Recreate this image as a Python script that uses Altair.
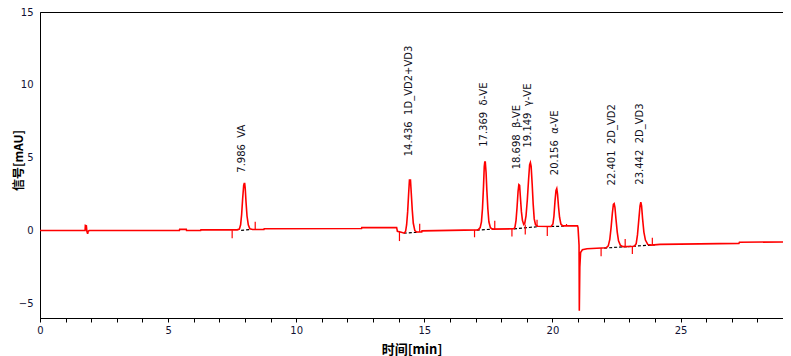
import altair as alt
import pandas as pd

# ---- chromatogram trace (time [min], signal [mAU]) ----
trace_t = [0.0, 1.76, 1.77, 1.81, 1.83, 1.86, 1.88, 1.92, 5.44, 5.45, 5.71, 5.72, 6.27, 6.28,
           7.70, 7.78, 7.83, 7.87, 7.91, 7.95, 7.97, 7.99, 8.01, 8.04, 8.08, 8.13, 8.19, 8.30,
           8.74, 8.75, 12.55, 12.56, 13.92, 13.95, 14.10, 14.22, 14.27, 14.31, 14.35, 14.39,
           14.42, 14.46, 14.49, 14.53, 14.57, 14.63, 14.70, 14.90, 14.91,
           17.10, 17.18, 17.23, 17.27, 17.31, 17.34, 17.36, 17.38, 17.41, 17.44, 17.48, 17.52,
           17.58, 17.66, 18.50, 18.54, 18.58, 18.62, 18.66, 18.69, 18.72, 18.75, 18.79, 18.83,
           18.88, 18.92, 18.97, 19.02, 19.07, 19.11, 19.14, 19.17, 19.21, 19.25, 19.29, 19.34,
           19.42, 19.95, 20.02, 20.06, 20.10, 20.14, 20.17, 20.20, 20.24, 20.28, 20.33, 20.40,
           20.98, 21.00, 21.02, 21.04, 21.05, 21.07, 21.10, 21.17, 21.35,
           22.10, 22.18, 22.24, 22.29, 22.34, 22.38, 22.41, 22.44, 22.48, 22.53, 22.58, 22.65,
           22.75, 23.20, 23.27, 23.32, 23.37, 23.42, 23.45, 23.48, 23.52, 23.57, 23.63, 23.72,
           23.85, 24.20, 27.28, 27.30, 29.0]
trace_v = [0.0, 0.0, 0.35, 0.32, -0.05, -0.22, -0.05, 0.0, 0.0, 0.08, 0.08, 0.0, 0.0, 0.05,
           0.05, 0.1, 0.4, 1.1, 2.2, 3.1, 3.22, 3.22, 2.9, 2.0, 1.0, 0.4, 0.12, 0.07,
           0.07, 0.12, 0.14, 0.2, 0.2, -0.05, -0.12, -0.18, -0.05, 0.4, 1.3, 2.6,
           3.47, 3.47, 2.6, 1.4, 0.5, 0.0, -0.1, -0.1, -0.02,
           0.05, 0.2, 0.6, 1.5, 3.0, 4.4, 4.7, 4.7, 4.0, 2.8, 1.5, 0.6,
           0.2, 0.1, 0.12, 0.25, 0.7, 1.6, 2.7, 3.15, 3.1, 2.3, 1.3, 0.7,
           0.42, 0.5, 1.0, 2.1, 3.5, 4.5, 4.66, 4.4, 3.2, 1.8, 0.8, 0.4,
           0.3, 0.28, 0.45, 1.0, 2.0, 2.75, 2.88, 2.5, 1.6, 0.9, 0.45, 0.32,
           0.33, 0.2, -0.4, -1.0, -5.5, -2.5, -1.5, -1.32, -1.25,
           -1.18, -1.05, -0.6, 0.2, 1.2, 1.8, 1.85, 1.6, 0.8, -0.1, -0.7, -1.0,
           -1.1, -1.08, -0.9, -0.3, 0.7, 1.7, 1.95, 1.7, 0.8, -0.1, -0.65, -0.95,
           -1.0, -0.95, -0.88, -0.8, -0.78]

# ---- integration markers (short red ticks) ----
mark_t = [7.50, 8.40, 14.03, 14.82, 16.96, 17.75, 18.42, 18.94, 19.40, 19.80, 20.55, 21.90, 22.84, 23.12, 23.90]
mark_v0 = [0.03, 0.07, -0.08, -0.1, 0.05, 0.1, 0.12, 0.42, 0.3, 0.3, 0.32, -1.2, -1.1, -1.08, -1.0]
mark_v1 = [-0.52, 0.6, -0.72, 0.46, -0.46, 0.68, -0.4, -0.27, 0.75, -0.37, 0.45, -1.76, -0.57, -1.6, -0.5]

# ---- dashed integration baselines ----
bl_t0 = [7.85, 14.20, 17.05, 18.50, 19.95, 22.02, 22.95]
bl_v0 = [0.02, -0.18, 0.03, 0.12, 0.28, -1.2, -1.1]
bl_t1 = [8.22, 14.70, 17.70, 19.45, 20.45, 22.95, 24.00]
bl_v1 = [0.07, -0.12, 0.1, 0.27, 0.3, -1.1, -0.98]

# ---- peak labels ----
label_text = ["7.986\u00a0\u00a0VA", "14.436\u00a0\u00a01D_VD2+VD3", "17.369\u00a0\u00a0δ-VE",
              "18.698\u00a0\u00a0β-VE", "19.149\u00a0\u00a0γ-VE", "20.156\u00a0\u00a0α-VE",
              "22.401\u00a0\u00a02D_VD2", "23.442\u00a0\u00a02D_VD3"]
label_x = [7.89, 14.41, 17.32, 18.62, 19.06, 20.09, 22.33, 23.41]
label_y = [3.97, 5.1, 5.75, 4.2, 5.7, 3.8, 3.1, 3.15]

x_ticks = list(range(0, 30))
y_ticks = [-5, 0, 5, 10, 15]

trace = pd.DataFrame({"t": trace_t, "v": trace_v, "i": list(range(len(trace_t)))})
marks = pd.DataFrame({"t": mark_t, "v": mark_v0, "v2": mark_v1})
bls = pd.DataFrame({"t": bl_t0, "v": bl_v0, "t2": bl_t1, "v2": bl_v1})
labels = pd.DataFrame({"t": label_x, "v": label_y, "txt": label_text})

PAD_L = 32
W, H = 743, 306

xscale = alt.Scale(domain=[0, 29], nice=False, zero=False)
yscale = alt.Scale(domain=[-6, 15], nice=False, zero=False)

xaxis = alt.Axis(title="时间[min]", values=x_ticks,
                 labelExpr="datum.value % 5 == 0 ? datum.label : ''",
                 tickSize=4, labelPadding=3, labelFlush=False, labelOverlap=False,
                 titleX=W / 2, titleY=31, titleBaseline="middle", titleAlign="center")
yaxis = alt.Axis(title="信号[mAU]", values=y_ticks, tickSize=0, labelPadding=7,
                 labelFlush=False, labelOverlap=False, titleFontSize=12,
                 titleX=-22, titleY=H / 2 - 5, titleAngle=270,
                 titleBaseline="middle", titleAlign="center")

X = alt.X("t:Q", scale=xscale, axis=xaxis)
Y = alt.Y("v:Q", scale=yscale, axis=yaxis)

line = alt.Chart(trace).mark_line(color="#ff0000", strokeWidth=1.6, interpolate="linear").encode(
    x=X, y=Y, order=alt.Order("i:Q"))

ticks = alt.Chart(marks).mark_rule(color="#ff0000", strokeWidth=1.2).encode(
    x=X, y=Y, y2="v2:Q")

dashed = alt.Chart(bls).mark_rule(color="black", strokeWidth=1.2, strokeDash=[3, 2]).encode(
    x=X, y=Y, x2="t2:Q", y2="v2:Q")

texts = alt.Chart(labels).mark_text(angle=270, align="left", baseline="middle",
                                    font="DejaVu Sans", fontSize=10, color="#111122").encode(
    x=X, y=Y, text="txt:N")

chart = alt.layer(dashed, line, ticks, texts).properties(
    width=W, height=H,
    autosize=alt.AutoSizeParams(type="none"),
    padding={"left": PAD_L, "top": 4, "right": 0, "bottom": 38},
).configure_view(stroke="black", strokeWidth=1).configure_axis(
    grid=False, domainColor="black", domainWidth=1, tickColor="black",
    labelColor="#111133", labelFont="DejaVu Sans", labelFontSize=10,
    titleFont="Noto Sans CJK SC", titleFontSize=13, titleFontWeight="bold", titleColor="black",
)

chart.save("out.html", embed_options={"renderer": "svg", "actions": False})
